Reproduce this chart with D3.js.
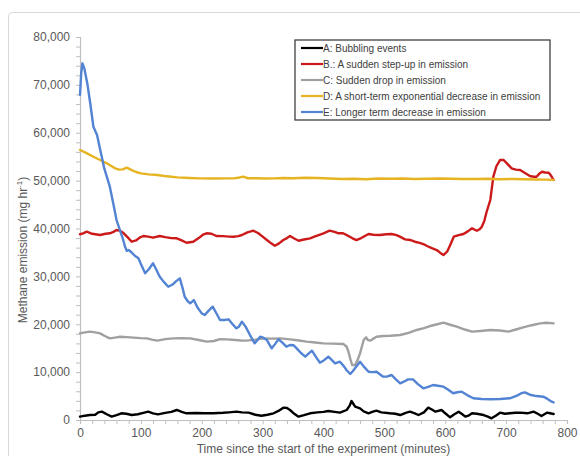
<!DOCTYPE html>
<html>
<head>
<meta charset="utf-8">
<script src="https://cdn.jsdelivr.net/npm/d3@7"></script>
<style>
  html, body { margin: 0; padding: 0; background: #ffffff; }
  svg { display: block; font-family: "Liberation Sans", Arial, sans-serif; }
</style>
</head>
<body>
<svg id="chart" width="580" height="456"></svg>
<script>
// Methane emission time series, [minutes, mg/hr]
const seriesNames = [
  "A: Bubbling events",
  "B.: A sudden step-up in emission",
  "C: Sudden drop in emission",
  "D: A short-term exponential decrease in emission",
  "E: Longer term decrease in emission"
];

const bubbling = [[0,700],[8,900],[16,1040],[25,1100],[30,1600],[36,1740],[44,1200],[52,700],[60,1000],[68,1400],[76,1300],[85,1040],[95,1200],[104,1500],[112,1740],[120,1400],[128,1180],[140,1500],[150,1700],[159,2090],[167,1700],[175,1400],[190,1450],[205,1400],[219,1400],[235,1500],[245,1600],[257,1740],[266,1600],[277,1530],[288,1100],[298,900],[308,1100],[318,1400],[326,1900],[334,2580],[340,2500],[345,2090],[352,1300],[359,700],[368,1000],[378,1400],[390,1600],[400,1700],[408,1880],[418,1700],[427,1530],[438,2090],[443,3000],[446,3970],[452,2790],[460,2440],[466,1800],[474,1400],[480,1700],[487,1950],[495,1600],[509,1400],[518,1300],[526,1040],[535,1500],[542,1740],[550,1400],[556,1040],[565,1600],[572,2580],[578,2200],[584,1740],[594,2090],[600,1400],[608,560],[615,1200],[622,1740],[628,1200],[633,700],[638,900],[644,1400],[652,1300],[663,1040],[670,700],[676,350],[683,900],[690,1530],[698,1300],[706,1400],[715,1500],[723,1530],[735,1400],[745,1740],[752,1300],[758,840],[767,1530],[772,1400],[778,1250]];

const stepUp = [[0,38800],[5,39000],[11,39330],[20,38900],[33,38640],[42,38900],[49,39000],[55,39300],[60,39680],[66,39500],[71,39100],[78,38200],[85,37240],[92,37500],[98,38100],[104,38430],[112,38300],[120,38100],[131,38430],[140,38200],[150,38000],[159,37950],[167,37500],[175,37030],[186,37240],[195,38000],[202,38700],[208,39000],[216,38900],[224,38430],[235,38400],[245,38300],[252,38290],[260,38400],[266,38640],[275,39200],[285,39540],[293,39000],[300,38300],[307,37590],[314,36900],[320,36400],[327,36900],[334,37590],[340,38000],[345,38430],[352,37900],[359,37450],[368,37700],[378,37940],[385,38300],[392,38640],[400,39000],[410,39540],[418,39300],[425,39000],[432,39000],[440,38500],[447,38000],[454,37590],[462,38000],[474,38850],[482,38700],[493,38640],[503,38800],[512,38850],[520,38600],[527,38200],[534,37730],[542,37600],[550,37240],[558,37000],[565,36700],[570,36340],[578,35900],[586,35500],[592,34900],[597,34460],[603,35150],[608,36500],[614,38290],[622,38600],[630,38850],[637,39400],[644,40040],[652,39540],[657,39900],[660,40380],[664,41500],[668,43500],[674,45950],[679,50820],[684,53000],[690,54300],[696,54300],[702,53500],[709,52560],[716,52300],[723,52210],[731,51600],[739,50960],[745,50820],[750,50820],[755,51500],[759,51860],[764,51700],[770,51650],[774,51000],[778,50130]];

const suddenDrop = [[0,18100],[8,18300],[16,18450],[25,18300],[33,18100],[40,17600],[49,17060],[57,17200],[66,17400],[77,17300],[88,17200],[100,17100],[110,17060],[118,16800],[127,16570],[140,16900],[153,17060],[167,17100],[181,17060],[195,16700],[208,16360],[220,16500],[230,16900],[241,16850],[255,16700],[265,16600],[274,16570],[288,16800],[301,17060],[315,17000],[329,17060],[345,16850],[360,16600],[372,16360],[386,16200],[400,16010],[415,15950],[433,15870],[438,15300],[441,14270],[444,12800],[447,11490],[452,11490],[456,12500],[460,13920],[463,15300],[466,16710],[470,17260],[473,16700],[477,16570],[482,17000],[487,17400],[498,17540],[510,17600],[526,17750],[540,18200],[553,18800],[565,19200],[575,19630],[587,20000],[597,20330],[608,19900],[619,19490],[632,18900],[644,18450],[658,18600],[674,18800],[690,18700],[704,18450],[716,18900],[728,19350],[742,19800],[756,20190],[766,20300],[778,20190]];

const shortTermDecay = [[0,56400],[10,55800],[22,55000],[33,54300],[44,53610],[52,53000],[58,52560],[64,52300],[70,52350],[77,52700],[85,52200],[92,51800],[100,51510],[113,51300],[127,51170],[143,50900],[160,50680],[180,50550],[198,50480],[220,50450],[240,50480],[252,50480],[260,50600],[268,50820],[276,50500],[290,50500],[305,50450],[318,50480],[335,50550],[350,50500],[370,50600],[390,50550],[410,50450],[430,50350],[450,50400],[470,50300],[490,50450],[510,50400],[530,50450],[550,50350],[570,50400],[590,50450],[610,50400],[630,50350],[650,50350],[670,50400],[690,50300],[710,50350],[730,50300],[750,50250],[765,50200],[778,50150]];

const longTermDecline = [[0,67900],[2,72500],[4,74500],[7,73500],[12,70300],[17,66000],[22,61260],[28,59520],[34,56000],[40,52500],[49,48730],[55,45000],[60,41770],[66,39500],[71,37600],[74,36200],[77,35300],[80,35500],[85,35000],[90,34300],[96,33770],[101,32300],[107,30640],[113,31500],[120,32730],[125,31500],[131,29930],[138,28800],[145,27840],[152,28300],[158,29000],[164,29590],[168,27800],[172,25750],[177,24800],[181,24370],[187,25060],[193,23500],[200,22280],[205,21930],[211,22800],[218,23670],[224,22300],[230,20890],[237,20900],[244,21030],[250,20100],[257,19150],[261,19500],[266,20540],[272,19500],[279,17800],[287,16020],[291,16600],[296,17400],[301,17200],[307,16710],[311,15800],[315,14970],[320,15800],[326,16850],[332,16200],[339,15310],[345,15660],[351,15600],[356,14970],[363,14000],[370,13220],[375,13800],[381,14480],[387,13300],[394,11970],[401,12500],[408,13220],[413,12600],[419,11830],[427,12180],[433,11300],[438,10400],[444,9610],[448,10200],[453,11000],[460,12180],[466,11200],[474,10090],[480,10000],[487,10090],[492,9600],[498,9050],[505,9100],[512,9400],[518,8600],[526,7660],[532,8000],[539,8490],[547,8490],[555,7500],[564,6620],[572,6900],[580,7310],[588,7150],[597,6970],[605,6300],[613,5580],[620,5800],[627,5920],[636,5200],[646,4530],[660,4400],[674,4320],[690,4400],[706,4530],[718,5100],[725,5600],[731,5780],[737,5400],[741,5220],[750,5000],[761,4870],[768,4400],[775,3830],[778,3700]];

const xTickValues = [0, 100, 200, 300, 400, 500, 600, 700, 800];
const yTickValues = [0, 10000, 20000, 30000, 40000, 50000, 60000, 70000, 80000];

const seriesData = [bubbling, stepUp, suddenDrop, shortTermDecay, longTermDecline];
const seriesColors = ["#000000", "#cc1a1a", "#a0a0a0", "#e6b422", "#5383d3"];

const svg = d3.select("#chart");

// Outer frame
svg.append("rect")
  .attr("x", 8.5).attr("y", 12.5)
  .attr("width", 620).attr("height", 500)
  .attr("rx", 4)
  .attr("fill", "none")
  .attr("stroke", "#d9d9d9")
  .attr("stroke-width", 1);

const x = d3.scaleLinear().domain([0, 800]).range([80, 567]);
const y = d3.scaleLinear().domain([0, 80000]).range([420, 37]);

const axisColor = "#bfbfbf";
const textColor = "#595959";

// Minor ticks
const xAxisG = svg.append("g")
  .attr("transform", `translate(0,${y(0)})`)
  .call(d3.axisBottom(x).tickValues(d3.range(0, 801, 20)).tickSize(4).tickFormat(""));
const yAxisG = svg.append("g")
  .attr("transform", `translate(${x(0)},0)`)
  .call(d3.axisLeft(y).tickValues(d3.range(0, 80001, 2000)).tickSize(4).tickFormat(""));

[xAxisG, yAxisG].forEach(g => {
  g.selectAll("path").attr("stroke", axisColor).attr("stroke-width", 1.2);
  g.selectAll("line").attr("stroke", axisColor).attr("stroke-width", 1);
});

// Tick labels
const xLabels = svg.append("g")
  .attr("transform", `translate(0,${y(0)})`)
  .call(d3.axisBottom(x).tickValues(xTickValues).tickSize(0).tickPadding(8.5).tickFormat(d3.format("d")));
xLabels.select(".domain").remove();
xLabels.selectAll("text")
  .attr("fill", textColor).attr("font-size", 12)
  .attr("font-family", "'Liberation Sans', Arial, sans-serif");

const yLabels = svg.append("g")
  .attr("transform", `translate(${x(0)},0)`)
  .call(d3.axisLeft(y).tickValues(yTickValues).tickSize(0).tickPadding(10).tickFormat(d3.format(",")));
yLabels.select(".domain").remove();
yLabels.selectAll("text")
  .attr("fill", textColor).attr("font-size", 12)
  .attr("font-family", "'Liberation Sans', Arial, sans-serif");

// Axis titles
svg.append("text")
  .attr("x", (x(0) + x(800)) / 2)
  .attr("y", 453)
  .attr("text-anchor", "middle")
  .attr("fill", textColor)
  .attr("font-size", 12)
  .text("Time since the start of the experiment (minutes)");

const yTitle = svg.append("text")
  .attr("transform", "translate(27,250) rotate(-90)")
  .attr("text-anchor", "middle")
  .attr("fill", textColor)
  .attr("font-size", 12);
yTitle.append("tspan").text("Methane emission (mg hr");
yTitle.append("tspan").attr("font-size", 8).attr("dy", -5).text("-1");
yTitle.append("tspan").attr("dy", 5).text(")");

// Series lines
const line = d3.line().x(d => x(d[0])).y(d => y(d[1]));
seriesData.forEach((data, i) => {
  svg.append("path")
    .datum(data)
    .attr("d", line)
    .attr("fill", "none")
    .attr("stroke", seriesColors[i])
    .attr("stroke-width", 2.4)
    .attr("stroke-linejoin", "round")
    .attr("stroke-linecap", "round");
});

// Legend
const legend = svg.append("g");
legend.append("rect")
  .attr("x", 295).attr("y", 40)
  .attr("width", 255).attr("height", 80)
  .attr("fill", "#ffffff")
  .attr("stroke", "#404040")
  .attr("stroke-width", 1.3);

seriesNames.forEach((name, i) => {
  const ry = 48 + i * 16;
  legend.append("line")
    .attr("x1", 301).attr("x2", 323)
    .attr("y1", ry).attr("y2", ry)
    .attr("stroke", seriesColors[i])
    .attr("stroke-width", 2.2);
  legend.append("text")
    .attr("x", 323).attr("y", ry + 3.6)
    .attr("fill", "#404040")
    .attr("font-size", 10)
    .text(name);
});
</script>
</body>
</html>
